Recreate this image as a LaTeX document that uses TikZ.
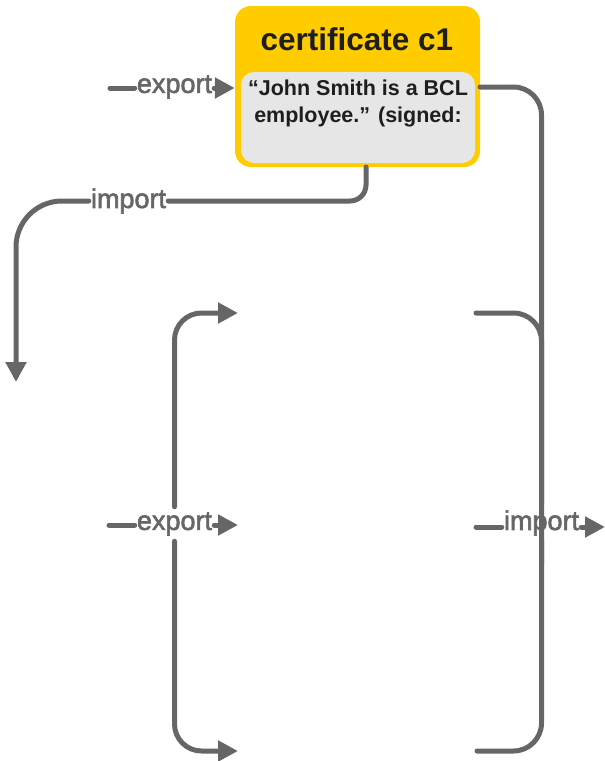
\documentclass[tikz,border=0pt]{standalone}
\usepackage{fontspec}
\setmainfont{Liberation Sans}
\newfontfamily\lblfont[FakeBold=2.2]{Liberation Sans}
\usetikzlibrary{arrows.meta}
\definecolor{cgray}{HTML}{666666}
\definecolor{cyellow}{HTML}{FFCC00}
\definecolor{cinner}{HTML}{E6E6E6}
\definecolor{ctext}{HTML}{1E1E1E}
\begin{document}
\begin{tikzpicture}[x=1pt,y=-1pt,
  conn/.style={draw=cgray, line width=5pt, line cap=round},
  arr/.style={conn, -{Triangle[length=20pt 0 0, width=20pt 0 0]}},
  lbl/.style={fill=white, text=cgray, font=\lblfont\fontsize{27}{30}\selectfont,
    inner xsep=2pt, inner ysep=5.5pt},
  outerbox/.style={fill=cyellow, rounded corners=16pt, minimum width=245pt,
    minimum height=161pt, inner sep=0pt},
  innerbox/.style={fill=cinner, rounded corners=13pt, minimum width=234pt,
    minimum height=91pt, inner sep=0pt}]
\useasboundingbox (0,0) rectangle (605,761);

% certificate
\node[outerbox] (cert) at (357.5,86.5) {};
\node[innerbox] (inner) at (358,117.5) {};
\node[text=ctext, font=\bfseries\fontsize{31.5}{33}\selectfont] (title) at (357,39) {certificate c1};
\node[text=ctext, font=\bfseries\fontsize{21.5}{27}\selectfont, align=center, anchor=north]
  (body) at (358,76) {“John Smith is a BCL\\employee.” (signed:};

% labels
\node[lbl] (exp1) at (174.5,87) {export};
\node[lbl] (imp1) at (128.5,201) {import};
\node[lbl] (exp2) at (174.5,524) {export};
\node[lbl] (imp2) at (541.5,523) {import};

% free ends
\coordinate (s1) at (110,88);
\coordinate (t1) at (16,382);
\coordinate (s2) at (109,525);
\coordinate (ttop) at (238,313);
\coordinate (tmid) at (238,525);
\coordinate (tbot) at (238,751);
\coordinate (rtop) at (476,313);
\coordinate (rmid) at (476,527);
\coordinate (rbot) at (477,751);
\coordinate (rout) at (605,527);
\coordinate (cbot) at (366,167);
\coordinate (ceast) at (480,87);

% top export
\draw[conn] (s1) -- (exp1.west |- s1);
\draw[arr] (exp1.east |- s1) -- (cert.west |- s1);

% import from certificate bottom
\draw[conn, rounded corners=16pt] (cbot) |- (imp1.east);
\draw[arr, rounded corners=46pt] (imp1.west) -| (t1);

% right side
\draw[conn, rounded corners=28pt] (ceast) -| (imp2.north);
\draw[conn, rounded corners=28pt] (rtop) -| ([yshift=-60pt]imp2.north);
\draw[conn, rounded corners=28pt] (imp2.south) |- (rbot);
\draw[conn] (rmid) -- (imp2.west |- rmid);
\draw[arr] (imp2.east |- rout) -- (rout);

% left export
\draw[conn] (s2) -- (exp2.west |- s2);
\draw[arr] (exp2.east |- tmid) -- (tmid);
\draw[arr, rounded corners=27pt] (exp2.north) |- (ttop);
\draw[arr, rounded corners=27pt] (exp2.south) |- (tbot);
\end{tikzpicture}
\end{document}
